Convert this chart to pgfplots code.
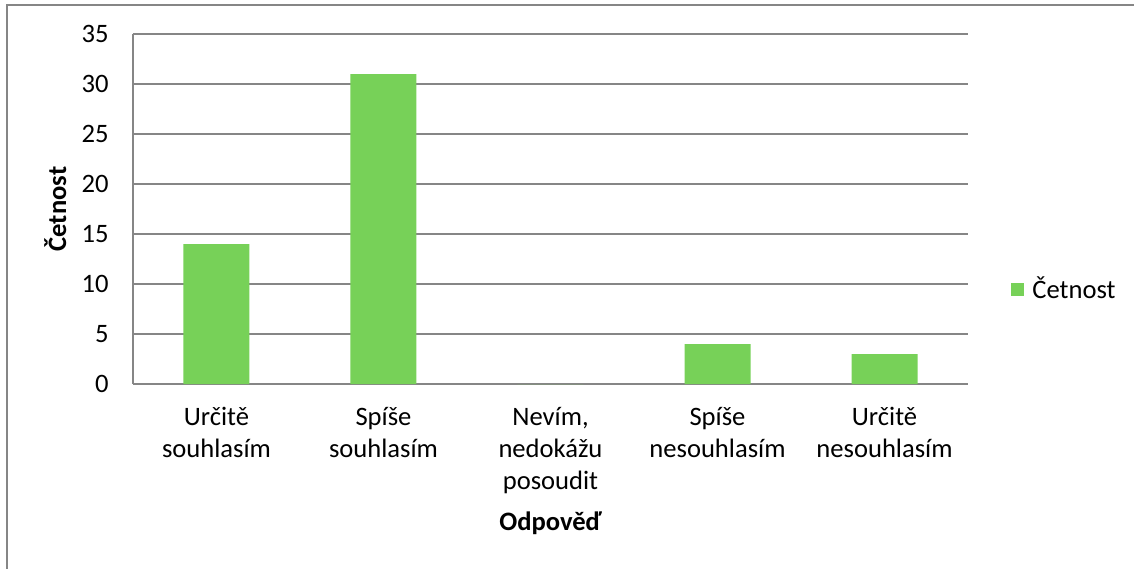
\documentclass[border=0pt]{standalone}
\usepackage{pgfplots}
\pgfplotsset{compat=1.18}
\usepackage{fontspec}
\setmainfont{Carlito}
\definecolor{barg}{RGB}{119,209,88}
\definecolor{lgray}{RGB}{134,134,134}
\begin{document}
\begin{tikzpicture}
\useasboundingbox (-66.5pt,-92pt) rectangle (500.5pt,192pt);
\draw[lgray, line width=1pt] (-63pt,-93pt) -- (-63pt,189.5pt) -- (501pt,189.5pt);
\begin{axis}[
 at={(0,0)}, anchor=south west,
 scale only axis, width=417.5pt, height=175pt,
 font=\fontsize{13.3}{16}\selectfont,
 /pgf/number format/assume math mode=true,
 ymin=0, ymax=35, ytick={0,5,...,35},
 xmin=-0.5, xmax=4.5, xtick={0,...,4},
 xticklabels={{Určitě\\souhlasím},{Spíše\\souhlasím},{Nevím,\\nedokážu\\posoudit},{Spíše\\nesouhlasím},{Určitě\\nesouhlasím}},
 x tick label style={align=center, anchor=north, inner sep=0pt, yshift=-11.5pt},
 y tick label style={anchor=east, inner sep=0pt, xshift=-12pt},
 major tick length=0pt,
 axis x line*=bottom, axis y line*=left,
 axis line style={lgray, line width=1pt, -},
 ymajorgrids, grid style={lgray, line width=1pt},
 xlabel={\bfseries Odpověď},
 every axis x label/.style={at={(axis description cs:0.5,0)}, anchor=base, yshift=-73pt},
 ylabel={\bfseries Četnost},
 every axis y label/.style={at={(axis description cs:-0.0802,0.5)}, rotate=90, anchor=base},
 legend style={at={(axis description cs:1.0515,0.27)}, anchor=west, draw=none, fill=none, inner sep=0pt, nodes={inner sep=0pt}, column sep=4pt},
]
\addplot[ybar, bar width=33pt, fill=barg, draw=none,
  legend image code/.code={\fill[barg] (0pt,-3.25pt) rectangle (6.5pt,3.25pt);}]
  coordinates {(0,14) (1,31) (2,0) (3,4) (4,3)};
\addlegendentry{Četnost}
\end{axis}
\end{tikzpicture}
\end{document}
